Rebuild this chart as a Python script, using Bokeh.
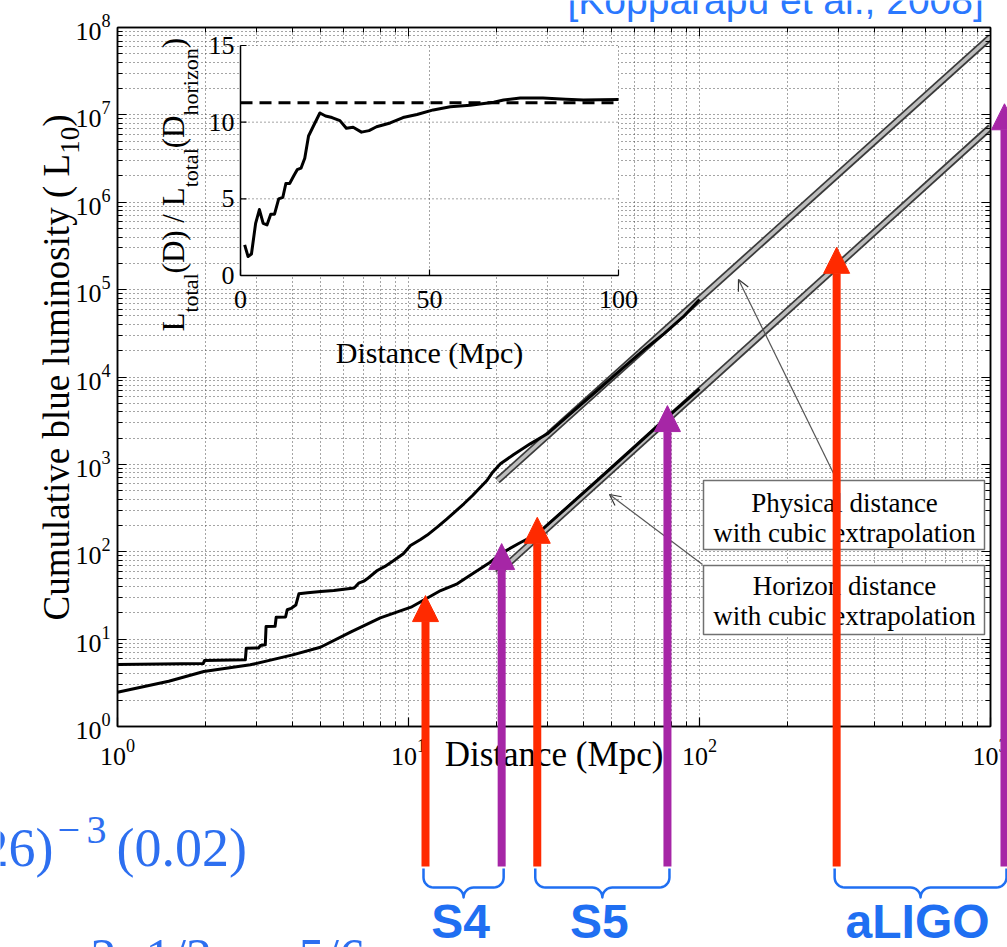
import math
from bokeh.plotting import figure
from bokeh.models import (Range1d, LinearScale, LogAxis, FixedTicker, Label, Arrow,
                          NormalHead, OpenHead, CustomJSTickFormatter, GridBox)
from bokeh.core.properties import value
from bokeh.embed import file_html
from bokeh.resources import INLINE

# ---------------- data ----------------
x_limits = (1, 1000)
y_limits = (1, 1e8)
x_major = [1, 10, 100, 1000]
y_major = [10 ** k for k in range(9)]
x_minor = [m * 10 ** k for k in range(3) for m in range(2, 10)]
y_minor = [m * 10 ** k for k in range(8) for m in range(2, 10)]

horizon_dist = [1.0, 1.5, 1.98, 2.86, 4.0, 4.98, 6.32, 8.0, 10.2, 12.9, 14.7, 17.0, 19.1,
                20.7, 24.0, 27.7, 35.0, 44.5, 60.0, 77.4, 100.0]
horizon_lum = [2.47, 3.3, 4.26, 5.08, 6.6, 8.07, 12.0, 17.5, 23.2, 36.0, 43.0, 59.0, 76.0,
               94.6, 125.0, 160.0, 320.0, 653.0, 1600.0, 3460.0, 7300.0]

physical_dist = [1.0, 1.97, 1.99, 2.75, 2.77, 3.05, 3.1, 3.22, 3.24, 3.48, 3.51, 3.78, 3.83,
                 3.95, 4.0, 4.1, 4.2, 4.5, 5.0, 5.54, 6.5, 6.58, 6.74, 7.02, 7.21, 7.81, 8.3,
                 8.9, 9.6, 10.16, 11.0, 11.6, 12.55, 13.5, 14.5, 15.5, 16.6, 17.5, 18.6, 19.5,
                 20.7, 23.0, 26.2, 30.0, 35.0, 44.5, 55.0, 65.0, 75.4, 88.0, 100.0]
physical_lum = [5.12, 5.25, 5.69, 5.8, 7.87, 7.9, 8.45, 8.6, 13.95, 14.0, 17.8, 17.9, 21.7,
                22.5, 23.2, 24.5, 33.0, 34.0, 35.0, 36.0, 38.5, 40.0, 43.7, 46.0, 49.0, 61.0,
                68.0, 79.4, 95.0, 118.0, 138.0, 155.0, 191.0, 235.0, 290.0, 354.0, 440.0,
                530.0, 654.0, 820.0, 1016.0, 1300.0, 1718.0, 2239.0, 3500.0, 7006.0, 13000.0,
                21000.0, 31200.0, 49000.0, 77000.0]

extrap_physical_dist = [20.2, 1000.0]
extrap_physical_lum = [650.0, 7.75e7]
extrap_horizon_dist = [20.2, 1000.0]
extrap_horizon_lum = [56.4, 7.23e6]

ratio_dist = [1.1, 2.0, 2.9, 4.0, 5.0, 6.0, 7.0, 8.0, 9.0, 10.1, 11.2, 12.0, 13.0, 14.1, 15.0,
              16.0, 17.0, 18.0, 19.2, 21.0, 22.5, 24.2, 26.3, 28.0, 29.8, 32.0, 34.0, 36.0,
              39.6, 43.0, 46.7, 51.0, 55.5, 60.8, 67.0, 69.6, 74.0, 80.0, 86.0, 90.7, 100.0]
ratio_value = [2.0, 1.24, 1.4, 3.4, 4.3, 3.4, 3.3, 4.0, 4.0, 5.0, 5.1, 6.0, 6.0, 6.5, 6.9,
               7.0, 7.65, 9.1, 9.7, 10.6, 10.4, 10.3, 10.1, 9.6, 9.67, 9.35, 9.45, 9.7,
               9.95, 10.3, 10.5, 10.8, 11.0, 11.1, 11.3, 11.45, 11.57, 11.57, 11.5, 11.45, 11.48]
ratio_asymptote = 11.26
inset_x_limits = (0, 100)
inset_y_limits = (0, 15)
inset_x_ticks = [0, 50, 100]
inset_y_ticks = [0, 5, 10, 15]

arrow_dist = [11.44, 20.9, 27.7, 77.6, 296.0, 1117.0]
arrow_lum = [31.5, 124.0, 248.0, 4710.0, 3.05e5, 1.34e7]
arrow_kind = ["range", "horizon", "range", "horizon", "range", "horizon"]
run_names = ["S4", "S5", "aLIGO"]

# ---------------- layout constants (canvas pixels) ----------------
CW, CH = 1007, 947
W_FRAME, H_FRAME = 873, 699
FL, FT = 117, 27
FR, FB = FL + W_FRAME, FT + H_FRAME
DEC_X = W_FRAME / 3.0
DEC_Y = H_FRAME / 8.0
MID = 0.34   # distance from baseline to the "middle" anchor, in em


def dx(px):
    return 10 ** ((px - FL) / DEC_X)


def dy(py):
    return 10 ** ((FB - py) / DEC_Y)


def to_px(d):
    return FL + DEC_X * math.log10(d)


IL, IR, IT, IB = 240, 618, 45, 275
KX = (IR - IL) / float(inset_x_limits[1] - inset_x_limits[0])
KY = (IB - IT) / float(inset_y_limits[1] - inset_y_limits[0])


def ix(px):
    return (px - IL) / KX


def iy(py):
    return (IB - py) / KY


SERIF = "Liberation Serif"
SANS = "Liberation Sans"
RED = "#ff2a00"
PURPLE = "#a626a6"
BLUE = "#1f6ff2"
GRID = "#4a4a4a"

p = figure(x_axis_type="log", y_axis_type="log",
           x_range=Range1d(*x_limits), y_range=Range1d(*y_limits),
           frame_width=W_FRAME, frame_height=H_FRAME,
           min_border_left=FL, min_border_top=FT,
           min_border_right=CW - FR, min_border_bottom=CH - FB,
           output_backend="svg", toolbar_location=None,
           background_fill_color="white", border_fill_color="white")
p.frame_align = False
p.outline_line_color = "black"
p.outline_line_width = 1.5

xt = FixedTicker(ticks=x_major, minor_ticks=x_minor)
yt = FixedTicker(ticks=y_major, minor_ticks=y_minor)
p.xaxis.ticker = xt
p.yaxis.ticker = yt
p.xgrid.ticker = xt
p.ygrid.ticker = yt
for g in (p.xgrid, p.ygrid):
    g.grid_line_color = GRID
    g.grid_line_dash = "1 3"
    g.grid_line_width = 1
    g.minor_grid_line_color = GRID
    g.minor_grid_line_dash = "1 3"
    g.minor_grid_line_width = 1

for ax in (p.xaxis[0], p.yaxis[0]):
    ax.major_tick_in = 9
    ax.major_tick_out = 0
    ax.minor_tick_in = 5
    ax.minor_tick_out = 0
    ax.axis_line_width = 1.5
    ax.major_tick_line_width = 1.2
    ax.major_label_text_font = SERIF
    ax.major_label_text_font_size = "26px"
    ax.major_label_text_color = "black"
p.xaxis.major_label_standoff = 13
p.yaxis.major_label_standoff = 7
p.xaxis.axis_label = "Distance (Mpc)"
p.xaxis.axis_label_text_font = SERIF
p.xaxis.axis_label_text_font_style = "normal"
p.xaxis.axis_label_text_font_size = "35px"
p.xaxis.axis_label_text_color = "black"
p.xaxis.axis_label_standoff = -33

for loc, tk in (("above", xt), ("right", yt)):
    ax = LogAxis(ticker=tk, formatter=CustomJSTickFormatter(code="return ''"),
                 major_tick_in=9, major_tick_out=0, minor_tick_in=5, minor_tick_out=0,
                 axis_line_width=1.5, major_label_text_font_size="1px",
                 major_label_standoff=0)
    p.add_layout(ax, loc)

# ---------------- main curves ----------------
for d, l in ((extrap_physical_dist, extrap_physical_lum), (extrap_horizon_dist, extrap_horizon_lum)):
    p.line(d, l, line_width=7, line_color="#3a3a3a")
    p.line(d, l, line_width=3.5, line_color="#bdbdbd")
p.line(physical_dist, physical_lum, line_width=3, line_color="black", line_join="round")
p.line(horizon_dist, horizon_lum, line_width=3, line_color="black", line_join="round")

# ---------------- inset (linear axes inside the main frame) ----------------
p.extra_x_ranges = {"ix": Range1d(ix(FL), ix(FR))}
p.extra_y_ranges = {"iy": Range1d(iy(FB), iy(FT))}
p.extra_x_scales = {"ix": LinearScale()}
p.extra_y_scales = {"iy": LinearScale()}
IN = dict(x_range_name="ix", y_range_name="iy")

x0i, x1i = inset_x_limits
y0i, y1i = inset_y_limits
p.quad(left=[x0i], right=[x1i], bottom=[y0i], top=[y1i], fill_color="white",
       line_color=None, **IN)
p.segment(x0=inset_x_ticks[1:], x1=inset_x_ticks[1:], y0=[y0i] * 2, y1=[y1i] * 2,
          line_color=GRID, line_dash="1 3", line_width=1, **IN)
p.segment(x0=[x0i] * 3, x1=[x1i] * 3, y0=inset_y_ticks[1:], y1=inset_y_ticks[1:],
          line_color=GRID, line_dash="1 3", line_width=1, **IN)
p.segment(x0=[x0i, x0i], x1=[x0i, x1i], y0=[y0i, y0i], y1=[y1i, y0i],
          line_color="black", line_width=1.5, **IN)
p.segment(x0=inset_x_ticks, x1=inset_x_ticks, y0=[y0i] * 3, y1=[y0i + 6 / KY] * 3,
          line_color="black", line_width=1.2, **IN)
p.segment(x0=[x0i] * 4, x1=[x0i + 6 / KX] * 4, y0=inset_y_ticks, y1=inset_y_ticks,
          line_color="black", line_width=1.2, **IN)
p.line([x0i, x1i], [ratio_asymptote, ratio_asymptote], line_width=3, line_color="black",
       line_dash="12 7", **IN)
p.line(ratio_dist, ratio_value, line_width=3, line_color="black", line_join="round", **IN)
p.text(x=inset_x_ticks, y=[iy(IB + 24)] * 3, text=[str(t) for t in inset_x_ticks],
       text_font=value(SERIF), text_font_size="26px", text_align="center",
       text_baseline="middle", text_color="black", **IN)
p.text(x=[ix(IL - 6)] * 4, y=inset_y_ticks, text=[str(t) for t in inset_y_ticks],
       text_font=value(SERIF), text_font_size="26px", text_align="right",
       text_baseline="middle", text_color="black", **IN)
p.add_layout(Label(x=dx(429), y=dy(352), text="Distance (Mpc)", text_font=SERIF,
                   text_font_size="30px", text_align="center", text_baseline="middle",
                   text_color="black"))


def rotated_pieces(fig, pieces, x_main, x_sub, y_start):
    """pieces: (text, em_width, font_px, is_sub) stacked bottom-to-top;
    x_main / x_sub are the baselines of normal and subscript text."""
    y = y_start
    for txt, em, fs, sub in pieces:
        xb = (x_sub if sub else x_main) - MID * fs
        fig.add_layout(Label(x=dx(xb), y=dy(y), text=txt,
                             angle=math.pi / 2, text_font=SERIF,
                             text_font_size="%dpx" % fs, text_align="left",
                             text_baseline="middle", text_color="black"))
        y -= em * fs


def flat_label(fig, txt, px, baseline, fs, font, color, align="left", style="normal"):
    fig.add_layout(Label(x=dx(px), y=dy(baseline - MID * fs), text=txt, text_font=font,
                         text_font_size="%dpx" % fs, text_font_style=style,
                         text_align=align, text_baseline="middle", text_color=color))


rotated_pieces(p, [("L", 0.611, 31, False), ("total", 1.778, 22, True),
                   ("(D) / L", 2.777, 31, False), ("total", 1.778, 22, True),
                   ("(D", 1.055, 31, False), ("horizon", 3.055, 22, True),
                   (")", 0.333, 31, False)], 184, 197, 331)

# ---------------- legend boxes with pointers ----------------
boxes = [(480, 549, "Physical distance", 502, 532),
         (565, 634, "Horizon distance", 585, 615)]
for top, bot, title, l1, l2 in boxes:
    p.quad(left=[dx(703)], right=[dx(984)], top=[dy(top)], bottom=[dy(bot)],
           fill_color="white", line_color="#707070", line_width=1.5)
    for txt, yy in ((title, l1), ("with cubic extrapolation", l2)):
        p.add_layout(Label(x=dx(844), y=dy(yy), text=txt, text_font=SERIF,
                           text_font_size="27px", text_align="center",
                           text_baseline="middle", text_color="black"))
for (sx0, sy0), (sx1, sy1) in (((836, 479), (738, 279)), ((702, 564), (609, 494))):
    p.add_layout(Arrow(end=OpenHead(size=11, line_width=1.2, line_color="#333333"),
                       x_start=dx(sx0), y_start=dy(sy0), x_end=dx(sx1), y_end=dy(sy1),
                       line_width=1.2, line_color="#555555"))

# ---------------- transparent overlay covering the whole canvas ----------------
q = figure(x_axis_type="log", y_axis_type="log", x_axis_location=None, y_axis_location=None,
           x_range=Range1d(dx(0), dx(CW)), y_range=Range1d(dy(CH), dy(0)),
           frame_width=CW, frame_height=CH, min_border=0, output_backend="svg",
           toolbar_location=None, background_fill_color=None, border_fill_color=None,
           outline_line_color=None)
q.frame_align = False
q.grid.visible = False

rotated_pieces(q, [("Cumulative blue luminosity ( L", 12.612, 37, False),
                   ("10", 1.0, 27, True), (" )", 0.583, 37, False)], 69, 79, 620)

ARROW_BASE = 866
for d, l, k in zip(arrow_dist, arrow_lum, arrow_kind):
    c = RED if k == "range" else PURPLE
    q.add_layout(Arrow(end=NormalHead(size=26, fill_color=c, line_color=c, line_width=1),
                       x_start=d, y_start=dy(ARROW_BASE), x_end=d, y_end=l,
                       line_width=8, line_color=c))


def brace(xa, xb, y0=868, y1=887, y2=897, r=10, n=8):
    xm = 0.5 * (xa + xb)
    pts = [(xa, y0)]
    for i in range(n + 1):
        t = 0.5 * math.pi * i / n
        pts.append((xa + r - r * math.cos(t), y1 - r + r * math.sin(t)))
    for i in range(n + 1):
        t = 0.5 * math.pi * i / n
        pts.append((xm - r + r * math.sin(t), y1 + (y2 - y1) * (1 - math.cos(t))))
    pts = pts + [(2 * xm - x, y) for x, y in reversed(pts)]
    return [dx(x) for x, _ in pts], [dy(y) for _, y in pts]


for i, name in enumerate(run_names):
    xa = to_px(arrow_dist[2 * i]) - 2
    xb = to_px(arrow_dist[2 * i + 1]) + 2
    bx, by = brace(xa, xb)
    q.line(bx, by, line_color=BLUE, line_width=2.5, line_join="round")
    flat_label(q, name, 0.5 * (xa + xb) - 3, 937, 48, SANS, BLUE, align="center",
               style="bold")

flat_label(q, "[Kopparapu et al., 2008]", 567, 13, 39, SANS, "#2a78ff")
FORM = "#2d6ff0"
flat_label(q, "(2.26)", 53, 866, 54, SERIF, FORM, align="right")
flat_label(q, "\u2212", 57, 843, 40, SERIF, FORM)
flat_label(q, "3", 86, 843, 40, SERIF, FORM)
flat_label(q, "(0.02)", 116, 866, 54, SERIF, FORM)
flat_label(q, "2", 90, 975, 52, SERIF, FORM)
flat_label(q, "1/2", 145, 975, 52, SERIF, FORM)
flat_label(q, "5/6", 298, 975, 52, SERIF, FORM)

layout = GridBox(children=[(p, 0, 0), (q, 0, 0)])
open("out.html", "w").write(file_html(layout, INLINE))
